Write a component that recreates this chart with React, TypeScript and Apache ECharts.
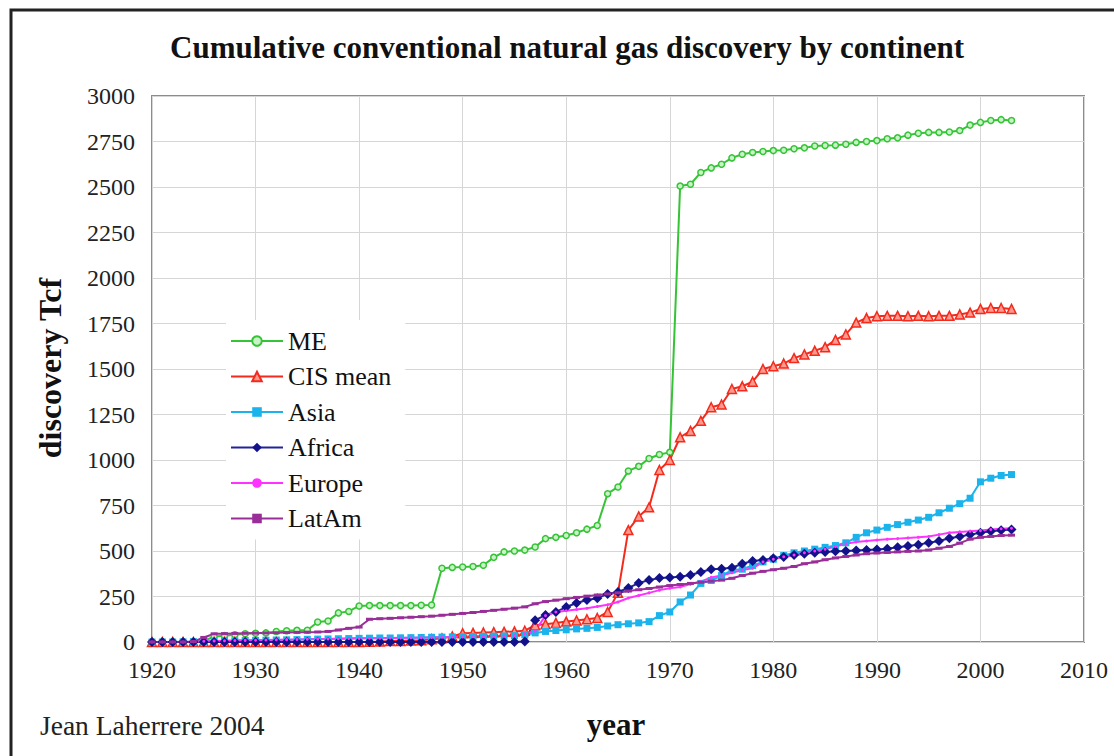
import React, { useEffect, useRef } from "react";
import * as echarts from "echarts";

const years: number[] = [];
for (let y = 1920; y <= 2003; y++) years.push(y);

const meValues = [0,0,0,0,2,5,30,35,40,45,48,50,58,62,64,65,110,115,160,168,198,200,200,200,200,200,202,203,405,410,412,415,422,465,495,500,505,522,568,575,585,600,620,640,815,852,940,965,1008,1030,1042,2505,2515,2580,2605,2625,2660,2680,2690,2695,2700,2702,2710,2715,2725,2728,2730,2735,2745,2750,2755,2765,2770,2785,2795,2800,2800,2802,2810,2840,2855,2865,2870,2865];
const cisValues = [0,0,0,0,0,0,0,0,0,0,0,0,0,0,0,0,0,0,0,0,0,2,3,5,6,8,10,15,20,30,48,50,52,54,56,58,62,92,98,105,112,118,125,132,165,270,615,690,740,945,1000,1125,1160,1215,1290,1305,1390,1405,1430,1500,1515,1530,1560,1580,1600,1620,1660,1690,1755,1780,1790,1792,1792,1790,1792,1790,1792,1792,1800,1810,1830,1835,1835,1830];
const asiaValues = [0,0,0,1,2,3,5,6,7,8,9,10,11,12,13,15,16,17,18,19,20,21,22,22,23,24,25,26,27,28,29,30,31,32,33,35,40,50,58,63,67,72,75,80,88,95,100,105,112,145,165,220,258,322,338,365,395,400,420,440,455,475,490,500,510,520,530,545,575,600,615,630,645,658,670,685,710,735,760,790,880,900,915,920];
const africaValues = [0,0,0,0,0,0,0,0,0,0,0,0,0,0,0,0,0,0,0,0,0,0,0,0,0,0,0,0,0,0,0,0,0,0,0,0,3,120,148,165,192,214,231,240,264,275,297,324,340,352,355,358,368,385,400,402,408,430,445,450,460,467,478,485,490,495,498,500,503,505,508,512,520,528,535,545,555,570,580,590,600,608,614,618];
const europeValues = [0,0,0,0,2,4,6,7,8,9,10,11,12,13,14,15,16,17,18,19,20,21,21,22,22,23,24,25,26,27,28,29,30,31,32,34,45,60,145,165,172,178,185,195,205,220,242,255,270,285,295,302,318,332,355,365,380,395,405,440,455,468,478,490,500,510,525,540,550,555,560,565,568,572,575,580,590,600,605,608,612,618,622,625];
const latamValues = [0,0,0,0,2,25,45,46,47,48,49,50,51,52,53,54,55,58,66,75,82,125,128,130,133,136,139,142,147,152,157,162,168,174,180,186,193,210,222,230,238,245,252,258,264,270,280,287,294,302,310,316,322,328,334,340,350,365,378,388,397,405,415,430,440,452,462,470,478,485,489,492,495,498,500,505,515,525,543,565,575,580,585,587];

const xTicks = [1920, 1930, 1940, 1950, 1960, 1970, 1980, 1990, 2000, 2010];
const yTicks = [0, 250, 500, 750, 1000, 1250, 1500, 1750, 2000, 2250, 2500, 2750, 3000];

const titleText = "Cumulative conventional natural gas discovery by continent";
const yName = "discovery Tcf";
const xName = "year";
const credit = "Jean Laherrere 2004";

const FONT = "Liberation Serif";

function pairs(vals: number[]) {
  return years.map((y, i) => [y, vals[i]]);
}

export default function App() {
  const ref = useRef<HTMLDivElement>(null);
  useEffect(() => {
    if (!ref.current) return;
    const chart = echarts.init(ref.current, null, { renderer: "svg" });
    const mk = (
      name: string,
      vals: number[],
      lineColor: string,
      symbol: string,
      symbolSize: any,
      fill: string,
      border: string,
      bw: number
    ) => ({
      name,
      type: "line",
      data: pairs(vals),
      symbol,
      symbolSize,
      showSymbol: true,
      lineStyle: { color: lineColor, width: 2 },
      itemStyle: { color: fill, borderColor: border, borderWidth: bw },
      emphasis: { disabled: true },
    });
    chart.setOption({
      animation: false,
      backgroundColor: "#ffffff",
      grid: { left: 152, right: 30, top: 96, bottom: 114, show: true, borderColor: "#8c8c8c", borderWidth: 2, backgroundColor: "transparent" },
      xAxis: {
        type: "value",
        min: xTicks[0],
        max: xTicks[xTicks.length - 1],
        interval: 10,
        axisLine: { show: false },
        axisTick: { show: false },
        axisLabel: { fontFamily: FONT, fontSize: 24, color: "#222", margin: 16, formatter: (v: number) => String(v) },
        splitLine: { show: true, lineStyle: { color: "#d6d6d6", width: 1 } },
      },
      yAxis: {
        type: "value",
        min: yTicks[0],
        max: yTicks[yTicks.length - 1],
        interval: 250,
        axisLine: { show: false },
        axisTick: { show: false },
        axisLabel: { fontFamily: FONT, fontSize: 24, color: "#222", margin: 17, formatter: (v: number) => String(v) },
        splitLine: { show: true, lineStyle: { color: "#d6d6d6", width: 1 } },
      },
      legend: {
        orient: "vertical",
        left: 226,
        top: 320,
        itemWidth: 52,
        itemHeight: 12,
        itemGap: 9.5,
        itemTextGap: 4,
        backgroundColor: "#ffffff",
        padding: [8, 14, 8, 4],
        textStyle: { fontFamily: FONT, fontSize: 26, color: "#111", lineHeight: 26 },
        data: ["ME", "CIS mean", "Asia", "Africa", "Europe", "LatAm"],
      },
      series: [
        mk("ME", meValues, "#35c435", "circle", 6, "#c9f2c9", "#35c435", 1.5),
        mk("CIS mean", cisValues, "#f42a1c", "triangle", 9, "#ff9a8e", "#f42a1c", 1.5),
        mk("Asia", asiaValues, "#1bb3ec", "rect", 7, "#1bb3ec", "#1bb3ec", 0),
        mk("Africa", africaValues, "#23239c", "diamond", 10, "#12128a", "#12128a", 0),
        mk("Europe", europeValues, "#ff33ff", "circle", 3, "#ff33ff", "#ff33ff", 0),
        mk("LatAm", latamValues, "#992e99", "rect", [7, 3], "#992e99", "#992e99", 0),
      ],
      graphic: [
        {
          type: "rect",
          shape: { x: 11, y: 10, width: 1130, height: 780 },
          style: { fill: "none", stroke: "#222", lineWidth: 3 },
          silent: true,
        },
        {
          type: "text",
          x: 567,
          y: 47,
          style: { text: titleText, font: `bold 31px ${FONT}`, fill: "#111", align: "center", verticalAlign: "middle" },
        },
        {
          type: "text",
          x: 50,
          y: 368,
          rotation: Math.PI / 2,
          style: { text: yName, font: `bold 32px ${FONT}`, fill: "#111", align: "center", verticalAlign: "middle" },
        },
        {
          type: "text",
          x: 616,
          y: 724,
          style: { text: xName, font: `bold 31px ${FONT}`, fill: "#111", align: "center", verticalAlign: "middle" },
        },
        {
          type: "text",
          x: 40,
          y: 725,
          style: { text: credit, font: `27.5px ${FONT}`, fill: "#222", align: "left", verticalAlign: "middle" },
        },
      ],
    });
    return () => chart.dispose();
  }, []);
  return <div ref={ref} style={{ position: "absolute", left: 0, top: 0, width: 1114, height: 756 }} />;
}
